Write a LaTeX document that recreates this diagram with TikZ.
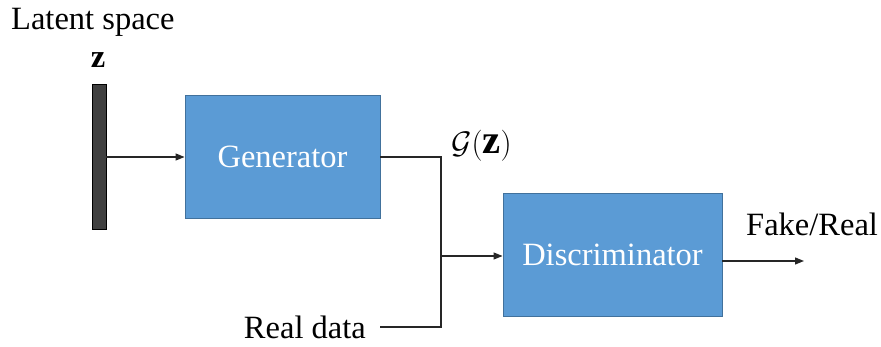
\documentclass[tikz,border=0pt]{standalone}
\usepackage{fontspec}
\setmainfont{Liberation Serif}
\usetikzlibrary{arrows.meta}
\definecolor{boxfill}{HTML}{5B9BD5}
\definecolor{boxedge}{HTML}{41719C}
\definecolor{barfill}{HTML}{404040}
\begin{document}
\begin{tikzpicture}[x=1pt,y=-1pt,
  block/.style={draw=boxedge,line width=0.9pt,fill=boxfill,text=white,
    font=\fontsize{32.5}{36}\selectfont,inner sep=0pt},
  latent/.style={draw=black,line width=0.8pt,fill=barfill,
    minimum width=14pt,minimum height=145pt,inner sep=0pt},
  wire/.style={line width=1.2pt,draw=black!85},
  arrowwire/.style={wire,-{Triangle[length=9pt,width=7pt]}},
  lbl/.style={font=\fontsize{32.5}{36}\selectfont,inner sep=0pt}]
\useasboundingbox (0,0) rectangle (881,347);
% nodes
\node[latent] (z) at (99,156.5) {};
\node[block,minimum width=195pt,minimum height=123pt] (gen) at (282.5,156.5) {Generator};
\node[block,minimum width=219pt,minimum height=123pt] (dis) at (612.5,254.5) {Discriminator};
% labels
\node[lbl,anchor=base west] (latentlbl) at (11,30) {Latent space};
\node[lbl,anchor=base] (zlbl) at (98,68) {$\mathbf{z}$};
\node[lbl,anchor=base west] (glbl) at (451,154) {\scalebox{1.25}{$\mathcal{G}(\mathbf{z})$}};
\node[lbl,anchor=base west] (outlbl) at (746,236) {Fake/Real};
\node[lbl,anchor=base east] (reallbl) at (366,338) {Real data};
% junction points
\coordinate (j) at (441,256);
\coordinate (out) at (804,261);
% connectors
\draw[arrowwire] (z.east |- 0,157) -- (gen.west |- 0,157);
\draw[wire] (gen.east |- 0,157) -- (441,157) -- (441,327) -- (380,327);
\draw[arrowwire] (j) -- (dis.west |- j);
\draw[arrowwire] (dis.east |- out) -- (out);
\end{tikzpicture}
\end{document}
